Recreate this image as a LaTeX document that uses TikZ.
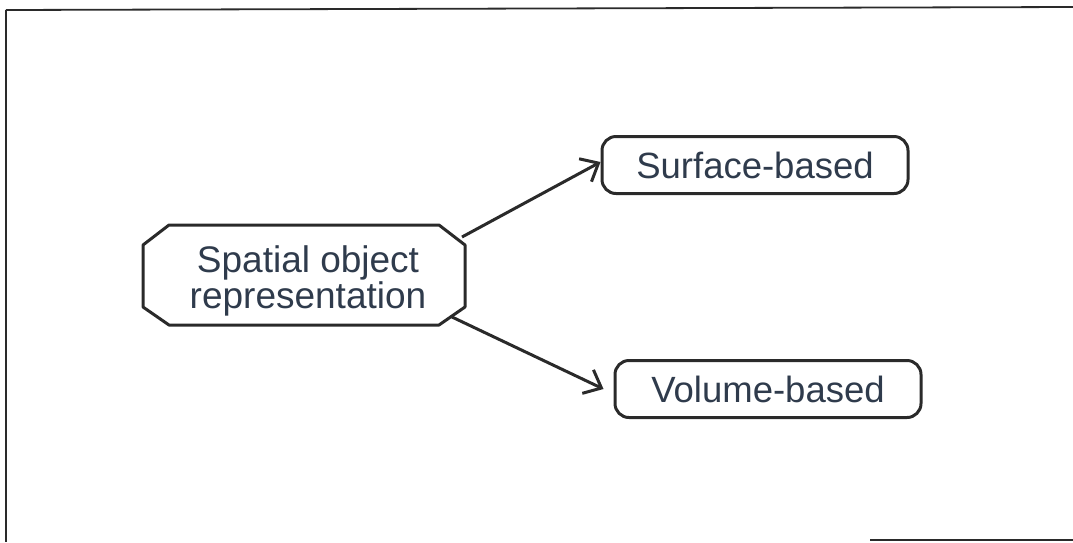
\documentclass[tikz,border=0pt]{standalone}
\usepackage{fontspec}
\setmainfont{Liberation Sans}
\usetikzlibrary{arrows.meta,calc}
\definecolor{ink}{HTML}{2A2A2A}
\definecolor{txt}{HTML}{2F3B4C}
\tikzset{
  boxline/.style={draw=ink, line width=3pt},
  octtext/.style={inner sep=0pt, align=center, text=txt,
    font=\fontsize{37}{34}\selectfont},
  roundbox/.style={boxline, rounded corners=14pt, minimum width=306pt, minimum height=57pt, inner sep=0pt,
    text=txt, font=\fontsize{36.5}{40}\selectfont},
  conn/.style={draw=ink, line width=3pt, -{Straight Barb[length=15pt,width=26pt,line width=3pt]}},
}
\begin{document}
\begin{tikzpicture}[x=1pt,y=-1pt]
\useasboundingbox (0,0) rectangle (1073,542);
\draw[ink, line width=1.8pt] (6,10) -- (1073,7);
\draw[ink, line width=1.8pt] (6,10) -- (6,542);
\draw[ink, line width=1.8pt] (870,540) -- (1073,540);
\node[octtext] (sp) at (308,281) {Spatial object\\representation};
\draw[boxline, line join=round]
  ($(sp.center)+(-139,-56)$) -- ($(sp.center)+(131,-56)$) -- ($(sp.center)+(157,-36)$)
  -- ($(sp.center)+(157,26)$) -- ($(sp.center)+(131,44)$) -- ($(sp.center)+(-139,44)$)
  -- ($(sp.center)+(-165,26)$) -- ($(sp.center)+(-165,-36)$) -- cycle;
\coordinate (spa) at ($(sp.center)+(154,-44)$);
\coordinate (spb) at ($(sp.center)+(144,36)$);
\node[roundbox] (surf) at (755,165) {Surface-based};
\node[roundbox] (vol) at (768,389) {Volume-based};
\draw[conn] (spa) -- ([yshift=3pt]surf.west);
\draw[conn] (spb) -- ([xshift=-10pt]vol.west);
\end{tikzpicture}
\end{document}
